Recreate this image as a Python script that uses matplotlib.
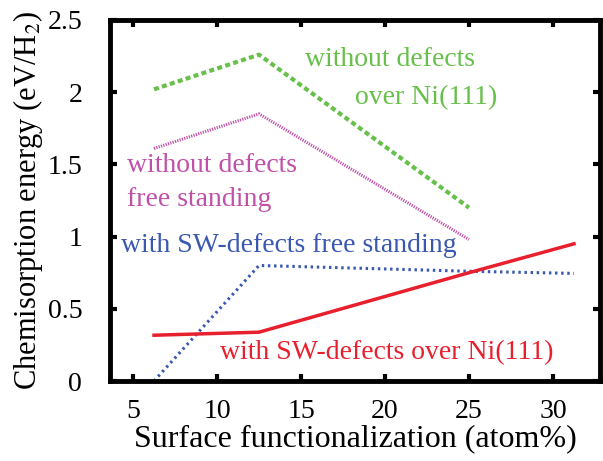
import matplotlib.pyplot as plt

plt.rcParams['font.family'] = ['Liberation Serif', 'DejaVu Serif']
plt.rcParams['mathtext.fontset'] = 'stix'

# surface functionalization (atom%)
x_green = [6.25, 12.5, 25.0]
y_green = [2.02, 2.26, 1.20]      # without defects over Ni(111)
x_pink = [6.25, 12.5, 25.0]
y_pink = [1.61, 1.85, 0.98]       # without defects free standing
x_blue = [6.25, 12.5, 25.0, 31.25]
y_blue = [0.0, 0.80, 0.76, 0.745]  # with SW-defects free standing
x_red = [6.25, 12.5, 25.0, 31.25]
y_red = [0.317, 0.338, 0.75, 0.95]  # with SW-defects over Ni(111)

c_green = '#66c04a'
c_pink = '#c050a8'
c_blue = '#3a58b0'
c_red = '#e8202e'

fig = plt.figure(figsize=(6.03, 4.61), dpi=100)
ax = fig.add_axes([110 / 603, 80 / 461, 490 / 603, 361 / 461])

ax.plot(x_green, y_green, color=c_green, lw=3, ls=(0, (1.2, 0.8)))
ax.plot(x_pink, y_pink, color=c_pink, lw=2.2, ls=(0, (0.4, 0.4)))
ax.plot(x_blue, y_blue, color=c_blue, lw=2.2, ls=(0, (0.8, 1.2)))
ax.plot(x_red, y_red, color=c_red, lw=2.5, ls='-')

ax.set_xlim(3.63, 32.8)
ax.set_ylim(0, 2.5)
ax.set_xticks([5, 10, 15, 20, 25, 30])
ax.set_yticks([0, 0.5, 1, 1.5, 2, 2.5])
ax.set_yticklabels(['0', '0.5', '1', '1.5', '2', '2.5'])
ax.tick_params(direction='in', length=5, width=3, labelsize=20,
               top=True, right=True)
ax.tick_params(axis='x', pad=13)
ax.tick_params(axis='y', pad=20)
for s in ax.spines.values():
    s.set_linewidth(3.5)

ax.set_xlabel('Surface functionalization (atom%)', fontsize=23, labelpad=0)
ax.set_ylabel('Chemisorption energy (eV/H$_2$)', fontsize=22, labelpad=2)

ax.text(305 / 603, 1 - 60 / 461, 'without defects', color=c_green, fontsize=20,
        transform=fig.transFigure, va='center')
ax.text(355 / 603, 1 - 98 / 461, 'over Ni(111)', color=c_green, fontsize=20,
        transform=fig.transFigure, va='center')
ax.text(127 / 603, 1 - 165 / 461, 'without defects', color=c_pink, fontsize=20,
        transform=fig.transFigure, va='center')
ax.text(127 / 603, 1 - 199 / 461, 'free standing', color=c_pink, fontsize=20,
        transform=fig.transFigure, va='center')
ax.text(121 / 603, 1 - 245 / 461, 'with SW-defects free standing', color=c_blue,
        fontsize=20, transform=fig.transFigure, va='center')
ax.text(220 / 603, 1 - 353 / 461, 'with SW-defects over Ni(111)', color=c_red,
        fontsize=20, transform=fig.transFigure, va='center')

fig.savefig('out.png', dpi=100)
